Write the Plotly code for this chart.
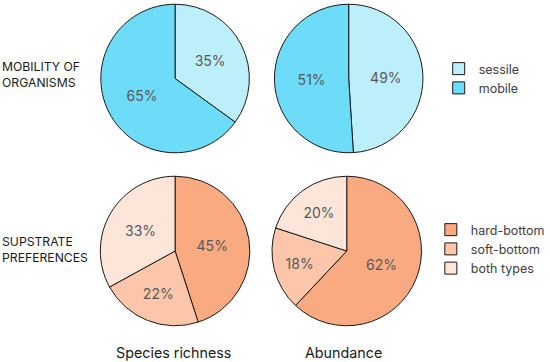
import plotly.graph_objects as go

W, H = 550, 362

mob_labels = ["sessile", "mobile"]
mob_richness = [35, 65]
mob_abundance = [49, 51]
mob_colors = ["#BDEFFB", "#6CDCF8"]

sub_labels = ["hard-bottom", "soft-bottom", "both types"]
sub_richness = [45, 22, 33]
sub_abundance = [62, 18, 20]
sub_colors = ["#F9AA80", "#FCC6AB", "#FDE5D9"]

row_titles = ["MOBILITY OF<br>ORGANISMS", "SUPSTRATE<br>PREFERENCES"]
col_titles = ["Species richness", "Abundance"]

FONT = "Inter"


def dom(cx, cy, r):
    return dict(x=[(cx - r) / W, (cx + r) / W], y=[1 - (cy + r) / H, 1 - (cy - r) / H])


def pie(labels, values, colors, d, legend, show):
    return go.Pie(
        labels=labels, values=values, sort=False, direction="clockwise", rotation=0,
        marker=dict(colors=colors, line=dict(color="#1a1a1a", width=1)),
        texttemplate="%{value}%", textposition="inside", insidetextorientation="horizontal",
        textfont=dict(family=FONT, size=14, color="#595959"),
        domain=d, legend=legend, showlegend=show, hoverinfo="label+value",
    )


fig = go.Figure()
fig.add_trace(pie(mob_labels, mob_richness, mob_colors, dom(178, 78.5, 75.5), "legend", True))
fig.add_trace(pie(mob_labels, mob_abundance, mob_colors, dom(354.5, 78.5, 75.5), "legend", False))
fig.add_trace(pie(sub_labels, sub_richness, sub_colors, dom(178, 251, 76), "legend2", True))
fig.add_trace(pie(sub_labels, sub_abundance, sub_colors, dom(352.5, 251, 76), "legend2", False))

ann = []
ann.append(dict(text=row_titles[0], x=0.5 / W, y=1 - 75 / H, xanchor="left", yanchor="middle", align="left"))
ann.append(dict(text=row_titles[1], x=0.5 / W, y=1 - 249 / H, xanchor="left", yanchor="middle", align="left"))
ann.append(dict(text=col_titles[0], x=176 / W, y=1 - 352 / H, xanchor="center", yanchor="middle",
                font=dict(family=FONT, size=14.3, color="#1a1a1a")))
ann.append(dict(text=col_titles[1], x=349 / W, y=1 - 352 / H, xanchor="center", yanchor="middle",
                font=dict(family=FONT, size=14.3, color="#1a1a1a")))
for a in ann:
    a.update(xref="paper", yref="paper", showarrow=False)
    a.setdefault("font", dict(family=FONT, size=12.2, color="#1a1a1a"))

legfont = dict(family=FONT, size=12.5, color="#404040")
fig.update_layout(
    width=W, height=H, margin=dict(l=0, r=0, t=0, b=0),
    paper_bgcolor="white", plot_bgcolor="white",
    annotations=ann,
    legend=dict(x=446 / W, y=1 - 54 / H, xanchor="left", yanchor="top", font=legfont,
                bgcolor="rgba(0,0,0,0)", traceorder="normal"),
    legend2=dict(x=438 / W, y=1 - 215 / H, xanchor="left", yanchor="top", font=legfont,
                 bgcolor="rgba(0,0,0,0)", traceorder="normal"),
)

fig.write_html("out.html", config={"displayModeBar": False},
               post_script="document.body.style.margin='0';document.body.style.overflow='hidden';")
